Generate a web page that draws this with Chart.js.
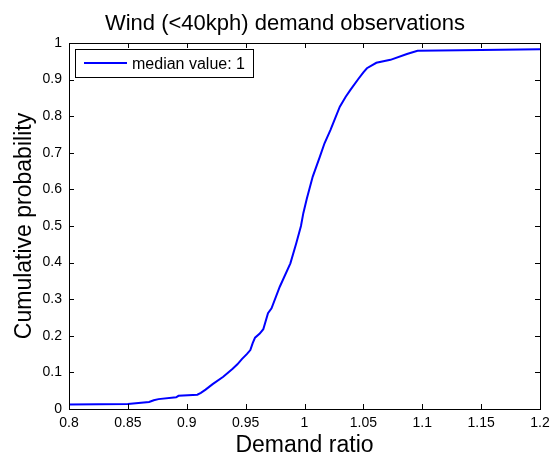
<!DOCTYPE html>
<html>
<head>
<meta charset="utf-8">
<script src="https://cdn.jsdelivr.net/npm/chart.js@4"></script>
<style>
  html, body { margin: 0; padding: 0; background: #fff; }
  #wrap { width: 552px; height: 461px; }
</style>
</head>
<body>
<div id="wrap"><canvas id="myChart" width="552" height="461"></canvas></div>
<script>
/* Daten */
const demandRatio = [0.800, 0.850, 0.868, 0.872, 0.876, 0.891, 0.893, 0.909, 0.912, 0.916,
  0.922, 0.931, 0.939, 0.943, 0.947, 0.951, 0.954, 0.956, 0.958, 0.962, 0.965, 0.969,
  0.972, 0.979, 0.988, 0.993, 0.997, 0.999, 1.002, 1.007, 1.013, 1.017,
  1.022, 1.026, 1.030, 1.035, 1.039, 1.046, 1.050, 1.053, 1.061, 1.073, 1.087, 1.096,
  1.150, 1.200];
const cumProb = [0.012, 0.014, 0.019, 0.024, 0.027, 0.032, 0.036, 0.039, 0.044, 0.053,
  0.068, 0.088, 0.110, 0.122, 0.137, 0.150, 0.161, 0.180, 0.195, 0.206, 0.218, 0.262,
  0.275, 0.334, 0.398, 0.453, 0.500, 0.535, 0.575, 0.635, 0.689, 0.726,
  0.762, 0.794, 0.826, 0.853, 0.872, 0.903, 0.920, 0.931, 0.946, 0.954, 0.970, 0.979,
  0.981, 0.983];
const xTicks = [0.8, 0.85, 0.9, 0.95, 1, 1.05, 1.1, 1.15, 1.2];
const yTicks = [0, 0.1, 0.2, 0.3, 0.4, 0.5, 0.6, 0.7, 0.8, 0.9, 1];
const seriesLabel = 'median value: 1';
const chartTitle = 'Wind (<40kph) demand observations';

const points = demandRatio.map((x, i) => ({ x: x, y: cumProb[i] }));
const FONT = 'Arial, "Liberation Sans", Helvetica, sans-serif';

/* Rahmen, Ticks nach innen, Titel, Legende (MATLAB-Stil) */
const matlabBox = {
  id: 'matlabBox',
  afterDraw(chart) {
    const ctx = chart.ctx;
    const a = chart.chartArea;
    const sx = chart.scales.x, sy = chart.scales.y;
    const tl = 5;
    ctx.save();
    ctx.strokeStyle = '#000';
    ctx.lineWidth = 1;
    ctx.beginPath();
    xTicks.forEach(v => {
      const px = Math.round(sx.getPixelForValue(v)) + 0.5;
      ctx.moveTo(px, a.bottom); ctx.lineTo(px, a.bottom - tl);
      ctx.moveTo(px, a.top); ctx.lineTo(px, a.top + tl);
    });
    yTicks.forEach(v => {
      const py = Math.round(sy.getPixelForValue(v)) + 0.5;
      ctx.moveTo(a.left, py); ctx.lineTo(a.left + tl, py);
      ctx.moveTo(a.right, py); ctx.lineTo(a.right - tl, py);
    });
    ctx.stroke();
    ctx.strokeRect(Math.round(a.left) + 0.5, Math.round(a.top) + 0.5,
      Math.round(a.right - a.left), Math.round(a.bottom - a.top));

    // Titel
    ctx.fillStyle = '#000';
    ctx.font = '22px ' + FONT;
    ctx.textAlign = 'center';
    ctx.textBaseline = 'alphabetic';
    ctx.fillText(chartTitle, 285, 30);

    // Legende
    const lx = a.left + 6, ly = a.top + 6, lw = 178, lh = 28;
    ctx.fillStyle = '#fff';
    ctx.fillRect(lx, ly, lw, lh);
    ctx.strokeRect(Math.round(lx) + 0.5, Math.round(ly) + 0.5, lw, lh);
    ctx.strokeStyle = '#0000ff';
    ctx.lineWidth = 2;
    ctx.beginPath();
    ctx.moveTo(lx + 9, ly + 14); ctx.lineTo(lx + 52, ly + 14);
    ctx.stroke();
    ctx.fillStyle = '#000';
    ctx.font = '16px ' + FONT;
    ctx.textAlign = 'left';
    ctx.fillText(seriesLabel, lx + 57, ly + 20);
    ctx.restore();
  }
};

const ctx = document.getElementById('myChart');

new Chart(ctx, {
  type: 'scatter',
  data: {
    datasets: [{
      label: seriesLabel,
      data: points,
      showLine: true,
      borderColor: '#0000ff',
      backgroundColor: '#0000ff',
      borderWidth: 2,
      pointRadius: 0,
      tension: 0
    }]
  },
  options: {
    responsive: false,
    animation: false,
    layout: { padding: { top: 43, right: 12, left: 0, bottom: 0 } },
    plugins: {
      legend: { display: false },
      title: { display: false },
      tooltip: { enabled: false }
    },
    scales: {
      x: {
        type: 'linear',
        min: 0.8,
        max: 1.2,
        afterBuildTicks: s => { s.ticks = xTicks.map(v => ({ value: v })); },
        afterFit: s => { s.height = 52; s.paddingRight = 0; s.paddingLeft = 0; },
        grid: { display: false, drawTicks: false },
        border: { display: false },
        ticks: {
          padding: 6,
          color: '#000',
          font: { size: 14, family: FONT },
          callback: v => String(v)
        },
        title: {
          display: true,
          text: 'Demand ratio',
          color: '#000',
          font: { size: 23, family: FONT },
          padding: { top: 0, bottom: 2 }
        }
      },
      y: {
        type: 'linear',
        min: 0,
        max: 1,
        afterBuildTicks: s => { s.ticks = yTicks.map(v => ({ value: v })); },
        afterFit: s => { s.width = 69; s.paddingTop = 0; s.paddingBottom = 0; },
        grid: { display: false, drawTicks: false },
        border: { display: false },
        ticks: {
          padding: 7,
          color: '#000',
          font: { size: 14, family: FONT },
          callback: v => String(v)
        },
        title: {
          display: true,
          text: 'Cumulative probability',
          color: '#000',
          font: { size: 23, family: FONT },
          padding: { top: 11, bottom: 0 }
        }
      }
    }
  },
  plugins: [matlabBox]
});
</script>
</body>
</html>
